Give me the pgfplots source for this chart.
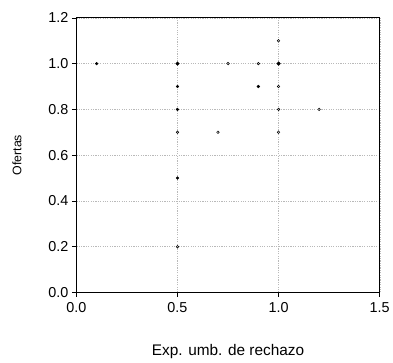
\documentclass[border=0pt]{standalone}
\usepackage{pgfplots}
\pgfplotsset{compat=1.18}
\usepackage{fontspec}
\setmainfont{Liberation Sans}
\begin{document}
\begin{tikzpicture}
\begin{axis}[
  scale only axis,
  width=306pt, height=277pt,
  xmin=0, xmax=1.5, ymin=0, ymax=1.2,
  xtick={0,0.5,1,1.5}, ytick={0,0.2,0.4,0.6,0.8,1.0,1.2},
  xticklabel style={yshift=-2pt, /pgf/number format/.cd,fixed,fixed zerofill,precision=1},
  yticklabel style={/pgf/number format/.cd,fixed,fixed zerofill,precision=1},
  /pgf/number format/assume math mode=true,
  tick label style={font=\fontsize{14.5}{16}\selectfont},
  tick align=outside, xtick pos=bottom, ytick pos=left,
  major tick length=4.5pt,
  tick style={black, line width=0.6pt},
  axis line style={black, line width=0.8pt},
  grid=major,
  grid style={dash pattern=on 1.2pt off 1.2pt, gray!55, line width=0.4pt},
  xlabel={Exp. umb. de rechazo},
  ylabel={Ofertas},
  xlabel style={font=\fontsize{15.5}{17}\selectfont, at={(axis description cs:0.5,-0.2166)}, anchor=center},
  ylabel style={font=\fontsize{12.5}{14}\selectfont, at={(axis description cs:-0.196,0.5)}, anchor=center},
  clip=false,
]
\addplot[only marks, mark=*, mark size=1.3pt, mark options={draw=black, fill=gray!40, line width=0.5pt}]
coordinates {
 (0.5,0.7) (0.5,0.2) (0.7,0.7) (0.75,1.0) (0.9,1.0)
 (1.0,1.1) (1.0,0.9) (1.0,0.8) (1.0,0.7) (1.2,0.8)
};
\addplot[only marks, mark=*, mark size=1.4pt, mark options={draw=black, fill=black}]
coordinates {
 (0.1,1.0) (0.5,0.9) (0.5,0.8) (0.5,0.5) (0.9,0.9)
};
\addplot[only marks, mark=*, mark size=1.8pt, mark options={draw=black, fill=black}]
coordinates {
 (0.5,1.0) (1.0,1.0)
};
\end{axis}
\path[use as bounding box] (-77pt,-70pt) rectangle (316pt,295pt);
\end{tikzpicture}
\end{document}
